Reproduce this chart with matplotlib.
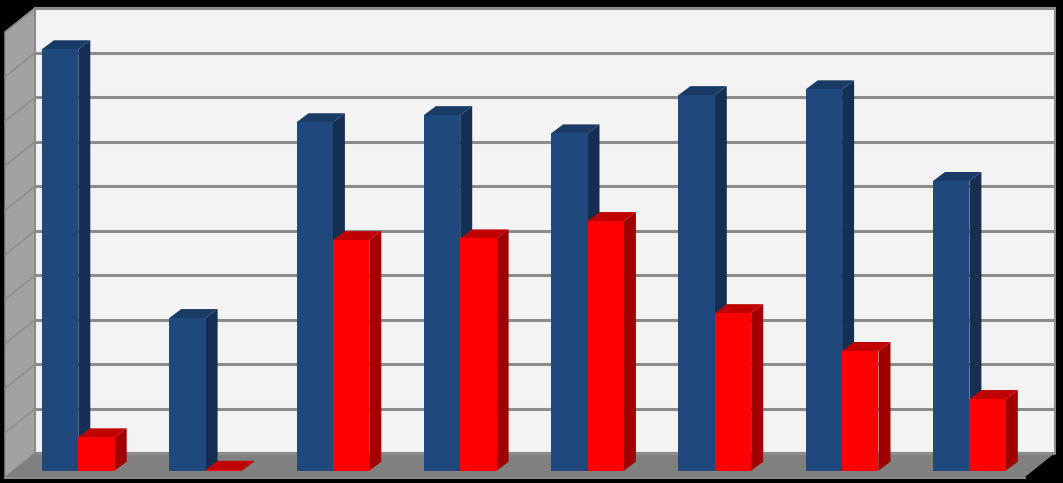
import matplotlib
matplotlib.use("Agg")
import matplotlib.pyplot as plt
from matplotlib.patches import Polygon

# values in gridline units
blue_vals = [9.47, 3.43, 7.83, 7.99, 7.58, 8.44, 8.57, 6.51]
red_vals = [0.75, 0.02, 5.18, 5.22, 5.61, 3.54, 2.69, 1.61]
grid_levels = [0.39, 1.39, 2.39, 3.39, 4.39, 5.39, 6.39, 7.39, 8.39, 9.39, 10.39]

W, H = 1063, 483
PX = 127.3   # pixels per category
PY = 44.5    # pixels per grid unit
X0 = 78.3    # pixel of first group's centre
Y0 = 470.7   # pixel of the bar bases

bar_w = 36.4 / PX
dep_x = 12 / PX
dep_y = 9 / PY
wall_dx = 30 / PX
wall_dy = 24 / PY

fig = plt.figure(figsize=(W / 100, H / 100), dpi=100, facecolor="black")
ax = fig.add_axes([0, 0, 1, 1])
ax.set_xlim(-X0 / PX, (W - X0) / PX)
ax.set_ylim(-(H - Y0) / PY, Y0 / PY)
ax.axis("off")

# back wall corners in data units
bx0 = (35 - X0) / PX
bx1 = (1055 - X0) / PX
by0 = (Y0 - 453) / PY
by1 = (Y0 - 8) / PY


def poly(pts, col, z=1, edge="none", lw=0):
    ax.add_patch(Polygon(pts, closed=True, facecolor=col, edgecolor=edge, linewidth=lw, zorder=z))


# left wall, back wall, floor
poly([(bx0 - wall_dx, by0 - wall_dy), (bx0, by0), (bx0, by1), (bx0 - wall_dx, by1 - wall_dy)],
     "#a2a2a2", edge="#929292", lw=1.0)
poly([(bx0, by0), (bx1, by0), (bx1, by1), (bx0, by1)], "#f3f3f3", edge="#8c8c8c", lw=1.5)
poly([(bx0 - wall_dx, by0 - wall_dy), (bx0, by0), (bx1, by0), (bx1 - wall_dx, by0 - wall_dy)], "#808080")
ax.plot([bx0 - wall_dx, bx1 - wall_dx], [by0 - wall_dy - 0.03] * 2, color="#a6a6a6", lw=1.2, zorder=1)

for g in grid_levels:
    ax.plot([bx0, bx1], [g, g], color="#8c8c8c", lw=2.2, zorder=2, solid_capstyle="butt")
    if g > 1:
        ax.plot([bx0 - wall_dx, bx0], [g - wall_dy, g], color="#8e8e8e", lw=1.2, zorder=2)


def bar3d(x, v, front, top, side, z):
    x1 = x + bar_w
    poly([(x1, 0), (x1 + dep_x, dep_y), (x1 + dep_x, v + dep_y), (x1, v)], side, z)
    poly([(x, v), (x1, v), (x1 + dep_x, v + dep_y), (x + dep_x, v + dep_y)], top, z)
    poly([(x, 0), (x1, 0), (x1, v), (x, v)], front, z + 0.1)


for i in range(len(blue_vals)):
    bar3d(i - bar_w, blue_vals[i], "#1f497d", "#1a3b66", "#152f52", 3 + i * 0.5)
    bar3d(i, red_vals[i], "#ff0000", "#c00000", "#a00000", 3.2 + i * 0.5)

fig.savefig("out.png", dpi=100, facecolor="black")
